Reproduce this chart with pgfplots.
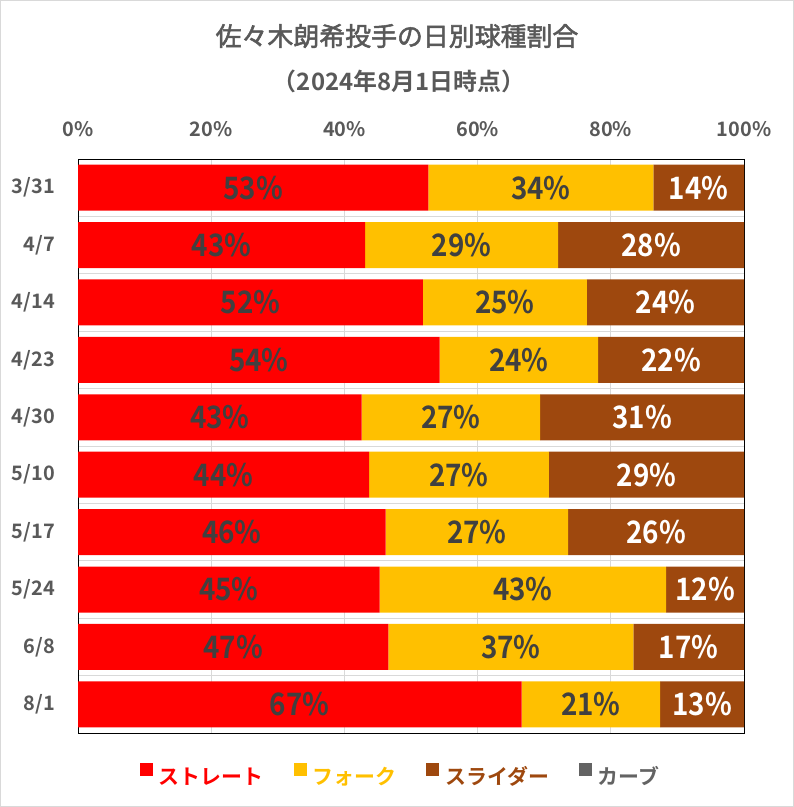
\documentclass[border=0pt]{standalone}
\usepackage{pgfplots}
\usepackage{pgfplotstable}
\pgfplotsset{compat=1.18}
\usepackage{fontspec}
\setmainfont{Noto Sans CJK JP}[BoldFont={Noto Sans CJK JP Bold}]
\newfontfamily\titlefont{Noto Sans CJK JP}[FakeBold=2]
\newfontfamily\numfont{Noto Sans CJK JP Bold}[FakeStretch=0.9]

\definecolor{cRed}{HTML}{FF0000}
\definecolor{cYel}{HTML}{FFC000}
\definecolor{cBrn}{HTML}{9E480E}
\definecolor{cGry}{HTML}{636363}
\definecolor{txt}{HTML}{595959}
\definecolor{lab}{HTML}{404040}
\definecolor{gridc}{HTML}{D9D9D9}

% share of each pitch per game (percent)
\pgfplotstableread{
i date st fo sl
0 3/31 52.6 33.8 13.6
1 4/7  43.1 29.0 27.9
2 4/14 51.8 24.6 23.6
3 4/23 54.3 23.8 21.9
4 4/30 42.6 26.8 30.6
5 5/10 43.7 27.0 29.3
6 5/17 46.2 27.4 26.4
7 5/24 45.3 43.0 11.7
8 6/8  46.6 36.8 16.6
9 8/1  66.6 20.8 12.6
}\data

\pgfplotsset{
  lbl/.style={
    nodes near coords={\pgfmathprintnumber[fixed,precision=0]{\pgfplotspointmeta}\%},
    every node near coord/.style={text=#1, anchor=center, inner sep=0pt,
      font=\numfont\fontsize{31}{31}\selectfont},
  },
}

\begin{document}
\begin{tikzpicture}
  \path[use as bounding box] (0,0) rectangle (794bp,807bp);
  \draw[gridc, line width=1bp] (0.5bp,0.5bp) rectangle (793.5bp,806.5bp);

  \begin{axis}[
    at={(78bp,74bp)}, anchor=south west,
    scale only axis, width=666bp, height=574bp,
    xbar stacked, bar width=46bp,
    xmin=0, xmax=100, ymin=-0.5, ymax=9.5, y dir=reverse,
    xtick={0,20,...,100},
    xticklabels={0\%,20\%,40\%,60\%,80\%,100\%},
    xticklabel pos=upper,
    ytick={0,...,9},
    yticklabels from table={\data}{date},
    minor ytick={0.5,1.5,...,8.5},
    xmajorgrids, yminorgrids,
    grid style={draw=gridc, line width=0.8bp},
    minor grid style={draw=gridc, line width=0.8bp},
    major tick length=0pt, minor tick length=0pt,
    axis line style={black, line width=0.9bp},
    tick label style={font=\fontsize{20}{20}\selectfont\bfseries, text=txt, inner sep=0pt},
    xticklabel style={anchor=center, yshift=29.5bp},
    yticklabel style={anchor=east, xshift=-23bp},
    /pgf/number format/assume math mode=true,
    point meta=explicit,
    legend style={at={(0.483,-0.073)}, anchor=center, draw=none, fill=none,
      legend columns=4, font=\fontsize{21}{21}\selectfont\bfseries,
      nodes={inner sep=0pt},
      /tikz/every odd column/.append style={column sep=6bp},
      /tikz/every even column/.append style={column sep=30bp}},
    legend image code/.code={\fill[#1] (0bp,0bp) rectangle (13bp,13bp);},
  ]
    \addplot[fill=cRed, draw=none, lbl=lab] table[x=st, y=i, meta=st] {\data};
    \addlegendentry{\textcolor{cRed}{ストレート}}
    \addplot[fill=cYel, draw=none, lbl=lab] table[x=fo, y=i, meta=fo] {\data};
    \addlegendentry{\textcolor{cYel}{フォーク}}
    \addplot[fill=cBrn, draw=none, lbl=white] table[x=sl, y=i, meta=sl] {\data};
    \addlegendentry{\textcolor{cBrn}{スライダー}}
    \addlegendimage{fill=cGry, draw=none}
    \addlegendentry{\textcolor{cGry}{カーブ}}
  \end{axis}

  \node[text=txt, font=\titlefont\fontsize{26}{26}\selectfont] at (397bp,771bp)
    {佐々木朗希投手の日別球種割合};
  \node[text=txt, font=\fontsize{24}{24}\selectfont\bfseries] at (399bp,726bp)
    {（2024年8月1日時点）};
\end{tikzpicture}
\end{document}
